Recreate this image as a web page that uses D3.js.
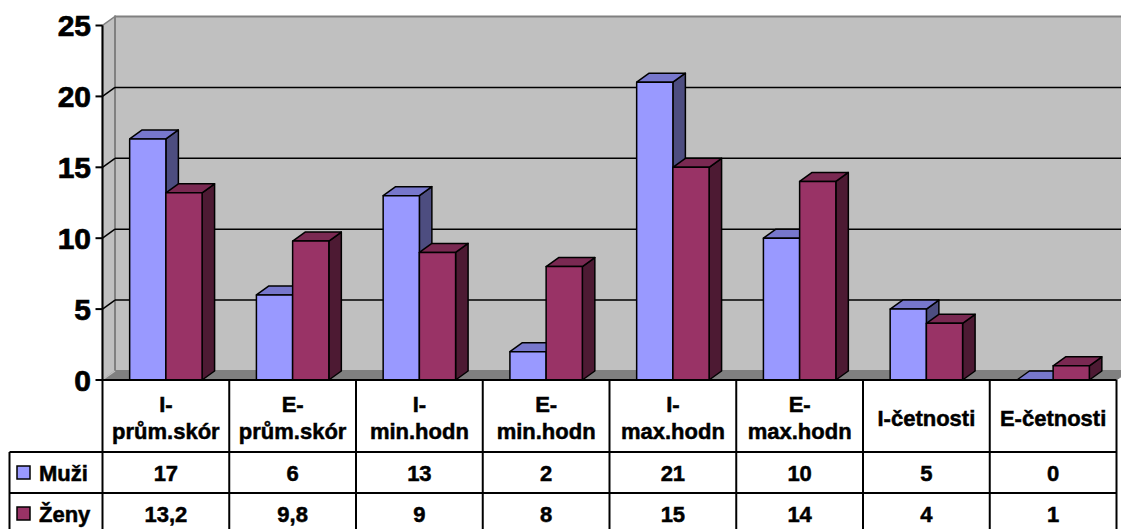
<!DOCTYPE html>
<html>
<head>
<meta charset="utf-8">
<script src="https://cdn.jsdelivr.net/npm/d3@7"></script>
<style>
  html, body { margin: 0; padding: 0; background: #ffffff; }
  svg { display: block; }
  text { font-family: "Liberation Sans", Arial, sans-serif; font-weight: bold; fill: #000; stroke: #000; stroke-width: 0.5px; }
</style>
</head>
<body>
<div id="chart"></div>
<script>
// Categories and series
const categories = ["I-prům.skór", "E-prům.skór", "I-min.hodn", "E-min.hodn",
                    "I-max.hodn", "E-max.hodn", "I-četnosti", "E-četnosti"];
const seriesNames = ["Muži", "Ženy"];
const muzi = [17, 6, 13, 2, 21, 10, 5, 0];
const zeny = [13.2, 9.8, 9, 8, 15, 14, 4, 1];
const muziLabels = ["17", "6", "13", "2", "21", "10", "5", "0"];
const zenyLabels = ["13,2", "9,8", "9", "8", "15", "14", "4", "1"];
const yTicks = [0, 5, 10, 15, 20, 25];

const W = 1121, H = 529;
const colors = {
  "Muži": { front: "#9999FF", top: "#7777CC", side: "#4D4D80" },
  "Ženy": { front: "#993366", top: "#7A2952", side: "#4D1A33" }
};

// Layout
const left = 102.5, right = 1116.5;
const y0 = 380, yTop = 25.5;
const DX = 12.5, DY = -9;          // depth offset of the 3D walls and columns
const headerBottom = 452, rowH = 41;
const legendLeft = 9.5;

const svg = d3.select("#chart").append("svg")
  .attr("width", W).attr("height", H);

const y = d3.scaleLinear().domain([0, 25]).range([y0, yTop]);
const x = d3.scaleBand().domain(categories).range([left, right]).paddingInner(0).paddingOuter(0);
const xs = d3.scaleBand().domain(seriesNames).range([0, x.bandwidth()]).paddingInner(0).paddingOuter(0.75);

const pts = a => a.map(p => p.join(",")).join(" ");

// Walls and floor
const walls = svg.append("g");
// side wall
walls.append("polygon")
  .attr("points", pts([[left, y0], [left, yTop], [left + DX, yTop + DY], [left + DX, y0 + DY]]))
  .attr("fill", "#C0C0C0").attr("stroke", "#808080").attr("stroke-width", 1.5);
// back wall
walls.append("polygon")
  .attr("points", pts([[left + DX, yTop + DY], [right + DX + 20, yTop + DY], [right + DX + 20, y0 + DY], [left + DX, y0 + DY]]))
  .attr("fill", "#C0C0C0").attr("stroke", "#808080").attr("stroke-width", 2);
// floor
walls.append("polygon")
  .attr("points", pts([[left, y0], [left + DX, y0 + DY], [right + DX, y0 + DY], [right, y0]]))
  .attr("fill", "#808080").attr("stroke", "#808080").attr("stroke-width", 1);
walls.append("line")
  .attr("x1", left + 1).attr("y1", y0 - 1).attr("x2", left + DX).attr("y2", y0 + DY)
  .attr("stroke", "#C0C0C0").attr("stroke-width", 1.5);

// Gridlines (on back and side walls)
const grid = svg.append("g");
yTicks.filter(t => t > 0 && t < 25).forEach(t => {
  grid.append("line")
    .attr("x1", left + DX).attr("x2", W)
    .attr("y1", y(t) + DY).attr("y2", y(t) + DY)
    .attr("stroke", "#000").attr("stroke-width", 1.5);
  grid.append("line")
    .attr("x1", left).attr("x2", left + DX)
    .attr("y1", y(t)).attr("y2", y(t) + DY)
    .attr("stroke", "#000").attr("stroke-width", 1.5);
});

// Columns (drawn left to right so nearer faces overlap correctly)
const bars = [];
categories.forEach((c, i) => {
  bars.push({ cat: c, s: "Muži", v: muzi[i] });
  bars.push({ cat: c, s: "Ženy", v: zeny[i] });
});
const bw = xs.bandwidth();
const gBars = svg.append("g").attr("stroke", "#000").attr("stroke-width", 1.5).attr("stroke-linejoin", "round");
bars.forEach(d => {
  const x0 = x(d.cat) + xs(d.s);
  const yv = y(d.v), yb = y(0);
  const col = colors[d.s];
  const g = gBars.append("g");
  // side
  g.append("polygon")
    .attr("points", pts([[x0 + bw, yv], [x0 + bw + DX, yv + DY], [x0 + bw + DX, yb + DY], [x0 + bw, yb]]))
    .attr("fill", col.side);
  // top
  g.append("polygon")
    .attr("points", pts([[x0, yv], [x0 + DX, yv + DY], [x0 + bw + DX, yv + DY], [x0 + bw, yv]]))
    .attr("fill", col.top);
  // front
  if (d.v > 0) {
    g.append("rect")
      .attr("x", x0).attr("y", yv).attr("width", bw).attr("height", yb - yv)
      .attr("fill", col.front);
  }
});

// Value axis
const axis = svg.append("g");
axis.append("line")
  .attr("x1", left).attr("x2", left).attr("y1", yTop).attr("y2", y0)
  .attr("stroke", "#000").attr("stroke-width", 2);
yTicks.forEach(t => {
  axis.append("line")
    .attr("x1", left - 7).attr("x2", left).attr("y1", y(t)).attr("y2", y(t))
    .attr("stroke", "#000").attr("stroke-width", 2);
  axis.append("text")
    .attr("x", 91).attr("y", y(t)).attr("dy", "0.36em")
    .attr("text-anchor", "end").attr("font-size", 30)
    .style("stroke-width", "0.7px")
    .text(t);
});

// Data table
const table = svg.append("g");
const tableBottom = headerBottom + 2 * rowH;
const lineAttr = sel => sel.attr("stroke", "#000").attr("stroke-width", 2);
// horizontal lines
lineAttr(table.append("line").attr("x1", left).attr("x2", right).attr("y1", y0).attr("y2", y0));
[headerBottom, headerBottom + rowH, tableBottom].forEach(yy => {
  lineAttr(table.append("line").attr("x1", legendLeft).attr("x2", right).attr("y1", yy).attr("y2", yy));
});
// vertical lines
categories.forEach(c => {
  lineAttr(table.append("line").attr("x1", x(c)).attr("x2", x(c)).attr("y1", y0).attr("y2", tableBottom));
});
lineAttr(table.append("line").attr("x1", right).attr("x2", right).attr("y1", y0).attr("y2", tableBottom));
lineAttr(table.append("line").attr("x1", legendLeft).attr("x2", legendLeft).attr("y1", headerBottom).attr("y2", tableBottom));

// Category headers, wrapped after the hyphen when too wide for the cell
const headMid = (y0 + headerBottom) / 2;
categories.forEach(c => {
  const t = table.append("text")
    .attr("x", x(c) + x.bandwidth() / 2)
    .attr("text-anchor", "middle").attr("font-size", 22);
  t.text(c);
  let lines = [c];
  if (t.node().getComputedTextLength() > 109) {
    const k = c.indexOf("-") + 1;
    lines = [c.slice(0, k), c.slice(k)];
  }
  t.text(null);
  lines.forEach((ln, i) => {
    t.append("tspan")
      .attr("x", x(c) + x.bandwidth() / 2)
      .attr("y", headMid + 9.5 + (i - (lines.length - 1) / 2) * 27)
      .text(ln);
  });
});

// Series rows
[[seriesNames[0], muziLabels], [seriesNames[1], zenyLabels]].forEach(([name, labels], r) => {
  const mid = headerBottom + rowH * r + rowH / 2;
  table.append("rect")
    .attr("x", 17).attr("y", mid - 6.5).attr("width", 13).attr("height", 13)
    .attr("fill", colors[name].front).attr("stroke", "#000").attr("stroke-width", 1.5);
  table.append("text")
    .attr("x", 39).attr("y", mid + 8.5)
    .attr("font-size", 22).text(name);
  categories.forEach((c, i) => {
    table.append("text")
      .attr("x", x(c) + x.bandwidth() / 2).attr("y", mid + 8.5)
      .attr("text-anchor", "middle").attr("font-size", 22)
      .text(labels[i]);
  });
});
</script>
</body>
</html>
